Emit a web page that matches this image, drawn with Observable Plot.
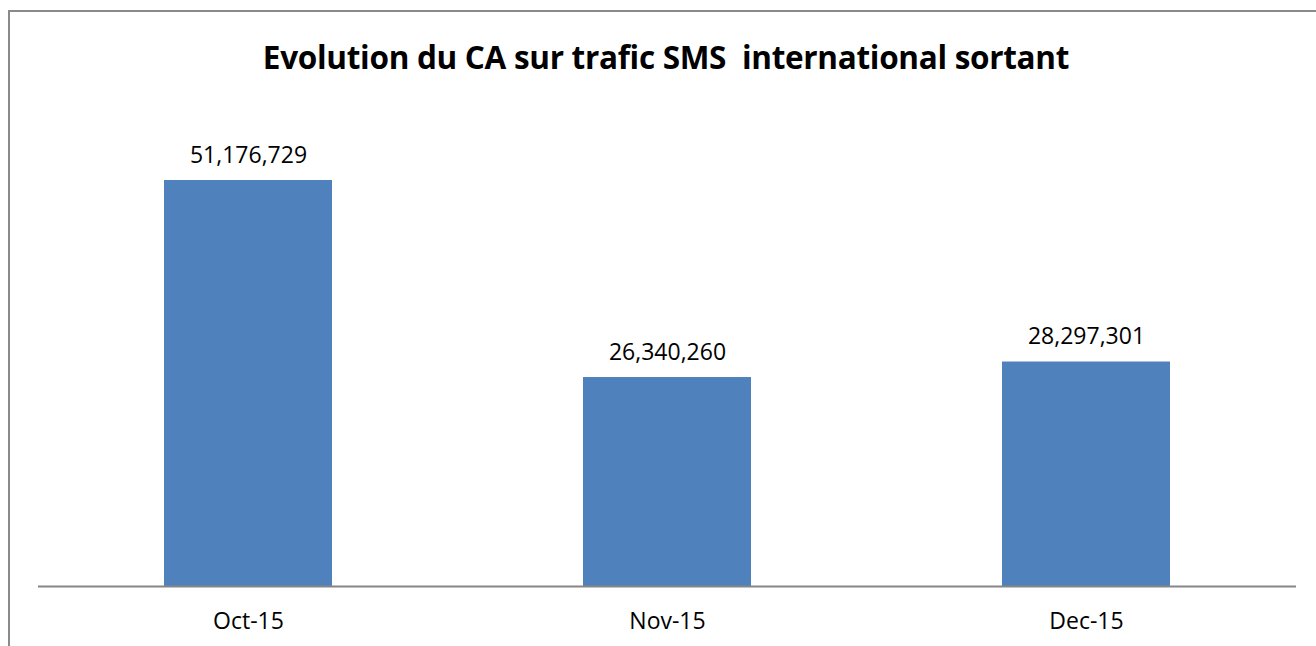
<!DOCTYPE html>
<html>
<head>
<meta charset="utf-8">
<script src="https://cdn.jsdelivr.net/npm/d3@7"></script>
<script src="https://cdn.jsdelivr.net/npm/@observablehq/plot@0.6"></script>
<style>
  html, body { margin: 0; padding: 0; background: #fff; }
  body { width: 1316px; height: 646px; position: relative; overflow: hidden; font-family: "Open Sans", sans-serif; }
  #frame { position: absolute; left: 8px; top: 10px; width: 1400px; height: 700px; border-left: 2px solid #8a8a8a; border-top: 2px solid #8a8a8a; }
  #title { position: absolute; left: 0; top: 35px; width: 1332px; text-align: center; font-family: "Open Sans", sans-serif; font-weight: bold; font-size: 31.5px; line-height: 44px; white-space: pre; color: #000; letter-spacing: -0.3px; }
  #chart { position: absolute; left: 0; top: 0; }
</style>
</head>
<body>
<div id="frame"></div>
<div id="title">Evolution du CA sur trafic SMS  international sortant</div>
<div id="chart"></div>
<script>
const months = ["Oct-15", "Nov-15", "Dec-15"];
const revenue = [51176729, 26340260, 28297301];

const data = months.map((m, i) => ({month: m, value: revenue[i]}));
const fmt = d3.format(",");

const chart = Plot.plot({
  width: 1316,
  height: 646,
  marginTop: 110,
  marginBottom: 60,
  marginLeft: 38,
  marginRight: 20,
  style: {fontFamily: "Open Sans, sans-serif", fontSize: "23px", color: "#000", background: "transparent", overflow: "visible"},
  x: {domain: months, paddingInner: 0.6, paddingOuter: 0.3, label: null},
  y: {domain: [0, 60000000], axis: null},
  marks: [
    Plot.barY(data, {x: "month", y: "value", fill: "#4F81BD"}),
    Plot.ruleY([0], {stroke: "#868686", strokeWidth: 2}),
    Plot.axisX({tickSize: 0, tickPadding: 26, fontSize: 23, fill: "#000", label: null}),
    Plot.text(data, {x: "month", y: "value", text: d => fmt(d.value), dy: -25, fontSize: 23, fill: "#000"})
  ]
});
document.getElementById("chart").appendChild(chart);
</script>
</body>
</html>
